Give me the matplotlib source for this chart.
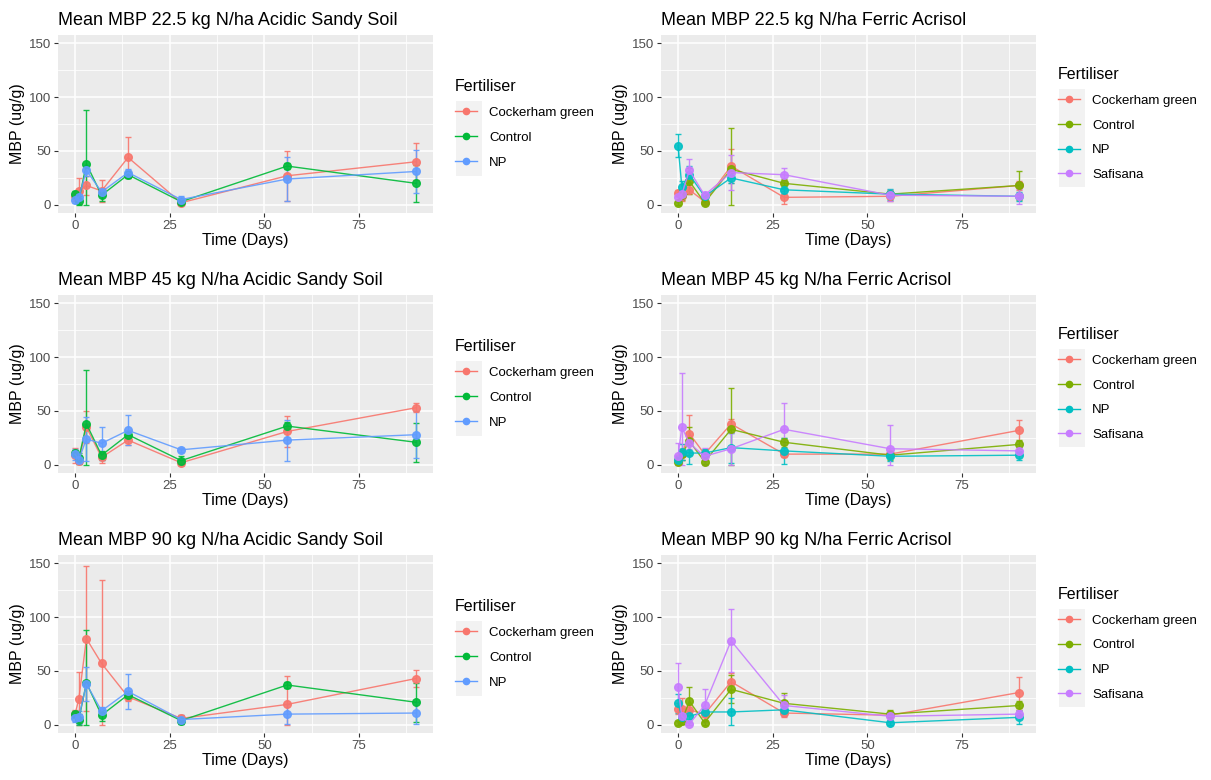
import matplotlib
matplotlib.use("Agg")
import matplotlib.pyplot as plt
from matplotlib.patches import Rectangle
from matplotlib.lines import Line2D

plt.rcParams['font.family'] = ['Liberation Sans', 'DejaVu Sans']

days = [0, 1, 3, 7, 14, 28, 56, 90]

# panel 1: 22.5 kg N/ha Acidic Sandy Soil
p1_cock = [8, 13, 18, 13, 44, 2, 27, 40]
p1_cock_err = [4, 12, 9, 10, 19, 2, 23, 17]
p1_ctrl = [10, 4, 38, 9, 28, 3, 36, 20]
p1_ctrl_err = [3, 4, 50, 5, 3, 2, 3, 17]
p1_np = [5, 7, 32, 12, 30, 5, 24, 31]
p1_np_err = [3, 4, 5, 4, 3, 3, 20, 20]

# panel 2: 22.5 kg N/ha Ferric Acrisol
p2_cock = [11, 8, 14, 3, 36, 7, 8, 18]
p2_cock_err = [3, 4, 4, 2, 16, 6, 4, 4]
p2_ctrl = [2, 9, 22, 2, 33, 20, 10, 18]
p2_ctrl_err = [2, 4, 12, 2, 38, 4, 4, 13]
p2_np = [55, 17, 28, 8, 25, 14, 10, 8]
p2_np_err = [11, 5, 8, 3, 5, 4, 5, 4]
p2_saf = [7, 10, 32, 9, 30, 28, 9, 8]
p2_saf_err = [4, 4, 11, 3, 16, 6, 5, 7]

# panel 3: 45 kg N/ha Acidic Sandy Soil
p3_cock = [9, 4, 35, 7, 23, 2, 31, 53]
p3_cock_err = [7, 3, 15, 5, 5, 2, 14, 4]
p3_ctrl = [11, 6, 38, 9, 28, 4, 36, 21]
p3_ctrl_err = [3, 5, 50, 4, 3, 4, 4, 18]
p3_np = [10, 5, 24, 20, 32, 14, 23, 28]
p3_np_err = [5, 4, 20, 15, 14, 2, 19, 22]

# panel 4: 45 kg N/ha Ferric Acrisol
p4_cock = [5, 10, 29, 10, 38, 10, 10, 32]
p4_cock_err = [4, 5, 17, 5, 5, 3, 3, 10]
p4_ctrl = [3, 10, 22, 3, 33, 21, 9, 19]
p4_ctrl_err = [2, 5, 13, 2, 38, 4, 4, 4]
p4_np = [5, 12, 11, 11, 16, 13, 8, 9]
p4_np_err = [3, 7, 10, 4, 14, 12, 4, 4]
p4_saf = [8, 35, 20, 8, 15, 33, 15, 13]
p4_saf_err = [12, 50, 5, 8, 15, 24, 22, 4]

# panel 5: 90 kg N/ha Acidic Sandy Soil
p5_cock = [10, 24, 80, 57, 26, 6, 19, 43]
p5_cock_err = [4, 25, 67, 77, 4, 3, 26, 8]
p5_ctrl = [10, 5, 39, 9, 28, 4, 37, 21]
p5_ctrl_err = [3, 5, 49, 5, 3, 3, 3, 18]
p5_np = [6, 7, 38, 13, 31, 5, 10, 11]
p5_np_err = [3, 6, 16, 4, 16, 4, 9, 10]

# panel 6: 90 kg N/ha Ferric Acrisol
p6_cock = [15, 15, 14, 10, 40, 11, 9, 30]
p6_cock_err = [5, 10, 4, 5, 8, 4, 3, 14]
p6_ctrl = [2, 4, 22, 2, 33, 20, 10, 18]
p6_ctrl_err = [2, 3, 13, 2, 13, 10, 4, 4]
p6_np = [20, 7, 8, 12, 12, 14, 2, 7]
p6_np_err = [9, 4, 5, 4, 13, 4, 2, 6]
p6_saf = [35, 8, 1, 18, 78, 18, 8, 10]
p6_saf_err = [22, 4, 2, 15, 29, 10, 3, 4]

labels3 = ["Cockerham green", "Control", "NP"]
labels4 = ["Cockerham green", "Control", "NP", "Safisana"]
cols3 = ["#F8766D", "#00BA38", "#619CFF"]
cols4 = ["#F8766D", "#7CAE00", "#00BFC4", "#C77CFF"]

panels = [
    ("Mean MBP 22.5 kg N/ha Acidic Sandy Soil", [(p1_cock, p1_cock_err), (p1_ctrl, p1_ctrl_err), (p1_np, p1_np_err)]),
    ("Mean MBP 22.5 kg N/ha Ferric Acrisol", [(p2_cock, p2_cock_err), (p2_ctrl, p2_ctrl_err), (p2_np, p2_np_err), (p2_saf, p2_saf_err)]),
    ("Mean MBP 45 kg N/ha Acidic Sandy Soil", [(p3_cock, p3_cock_err), (p3_ctrl, p3_ctrl_err), (p3_np, p3_np_err)]),
    ("Mean MBP 45 kg N/ha Ferric Acrisol", [(p4_cock, p4_cock_err), (p4_ctrl, p4_ctrl_err), (p4_np, p4_np_err), (p4_saf, p4_saf_err)]),
    ("Mean MBP 90 kg N/ha Acidic Sandy Soil", [(p5_cock, p5_cock_err), (p5_ctrl, p5_ctrl_err), (p5_np, p5_np_err)]),
    ("Mean MBP 90 kg N/ha Ferric Acrisol", [(p6_cock, p6_cock_err), (p6_ctrl, p6_ctrl_err), (p6_np, p6_np_err), (p6_saf, p6_saf_err)]),
]

W, H = 1211, 780
fig = plt.figure(figsize=(W / 100, H / 100), dpi=100)
fig.patch.set_facecolor("white")

lefts = [58, 661]
tops = [35, 295, 555]
pw, ph = 375, 178

for i, (title, series) in enumerate(panels):
    row, col = divmod(i, 2)
    x0, y0 = lefts[col], tops[row]
    ax = fig.add_axes([x0 / W, 1 - (y0 + ph) / H, pw / W, ph / H])
    ax.set_facecolor("#EBEBEB")
    for s in ax.spines.values():
        s.set_visible(False)
    ax.set_xlim(-4.5, 94.5)
    ax.set_ylim(-7.5, 157.5)
    ax.set_xticks([0, 25, 50, 75])
    ax.set_xticks([12.5, 37.5, 62.5, 87.5], minor=True)
    ax.set_yticks([0, 50, 100, 150])
    ax.set_yticks([25, 75, 125], minor=True)
    ax.grid(which="major", color="white", lw=1.1)
    ax.grid(which="minor", color="white", lw=0.55)
    ax.set_axisbelow(True)
    ax.tick_params(which="major", length=3, color="#333333", labelsize=9.5, labelcolor="#4D4D4D", pad=2)
    ax.tick_params(which="minor", length=0)

    cols = cols3 if len(series) == 3 else cols4
    labs = labels3 if len(series) == 3 else labels4
    for (vals, err), c in zip(series, cols):
        # error bars stop at zero, as in the original
        lower = [min(e, v) for v, e in zip(vals, err)]
        ax.errorbar(days, vals, yerr=[lower, err], color=c, lw=1.0, elinewidth=1.0,
                    capsize=2, capthick=1.0, marker="o", ms=5.5, alpha=0.9, zorder=3)

    ax.set_title(title, loc="left", fontsize=13, color="black", pad=7)
    ax.set_xlabel("Time (Days)", fontsize=11.5, labelpad=1)
    ax.set_ylabel("MBP (ug/g)", fontsize=11.5, labelpad=3)

    handles = [Line2D([], [], color=c, lw=1.0, marker="o", ms=4.5) for c in cols]
    ax.legend(handles, labs, title="Fertiliser", loc="center left",
              bbox_to_anchor=(1.026, 0.5), frameon=False, fontsize=9.5,
              title_fontsize=11.5, handlelength=1.7, handletextpad=0.9,
              labelspacing=0.95, alignment="left")

    # grey key background like ggplot
    if len(labs) == 3:
        ky0, ky1 = y0 + 66, y0 + 141
    else:
        ky0, ky1 = y0 + 54, y0 + 152
    fig.add_artist(Rectangle(((x0 + 398) / W, 1 - ky1 / H), 26 / W, (ky1 - ky0) / H,
                             transform=fig.transFigure, facecolor="#F2F2F2",
                             edgecolor="none", zorder=0))

fig.savefig("out.png", dpi=100)
